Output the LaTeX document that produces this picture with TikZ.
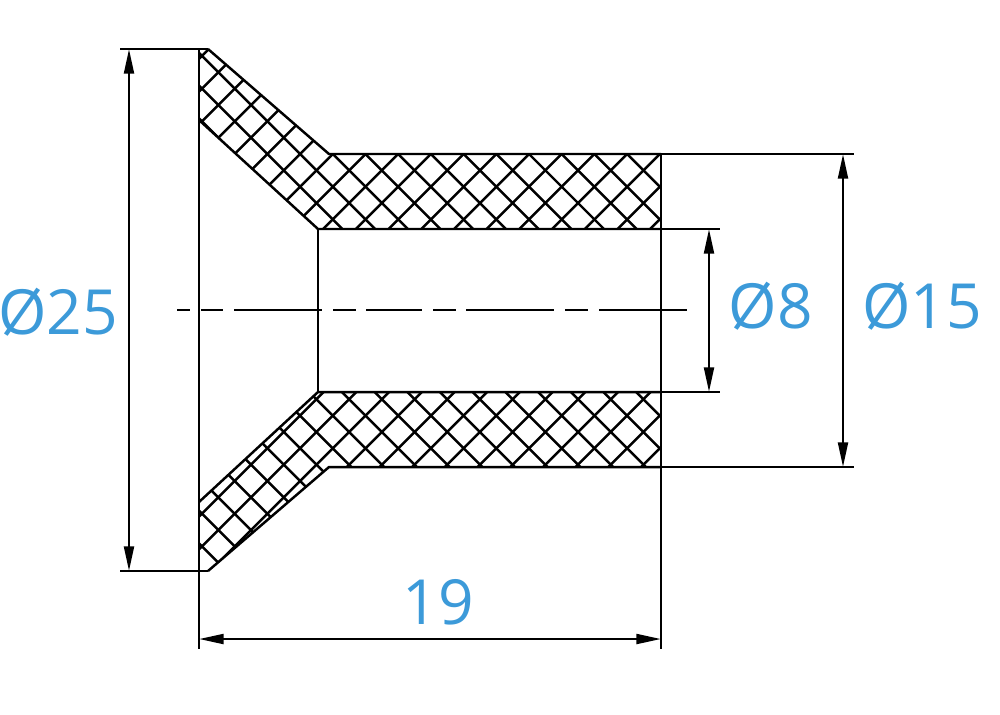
\documentclass[tikz,border=0pt]{standalone}
\usepackage{fontspec}
\setmainfont{Open Sans}
\usepackage{xcolor}
\usetikzlibrary{arrows.meta}
\definecolor{dimblue}{HTML}{3C9AD9}
\tikzset{
  dimline/.style={{Triangle[length=7pt,width=2.8pt]}-{Triangle[length=7pt,width=2.8pt]}},
  dimtext/.style={text=dimblue,font=\fontsize{17.7}{18}\selectfont,inner sep=0pt}
}
\begin{document}
\begin{tikzpicture}[x=0.01cm,y=-0.01cm,line width=0.7pt]

    \useasboundingbox (0, 0) rectangle (1000, 714);

    % corners of the section
    \coordinate (ta) at (199, 49);
    \coordinate (tb) at (208, 49);
    \coordinate (tc) at (329, 154);
    \coordinate (td) at (661, 154);
    \coordinate (te) at (661, 229);
    \coordinate (tf) at (318, 229);
    \coordinate (tg) at (199, 120);
    \coordinate (ba) at (199, 571);
    \coordinate (bb) at (208, 571);
    \coordinate (bc) at (329, 467);
    \coordinate (bd) at (661, 467);
    \coordinate (be) at (661, 392);
    \coordinate (bf) at (318, 392);
    \coordinate (bg) at (199, 502);

    % hatching
    \begin{scope}
      \clip (ta) -- (tb) -- (tc) -- (td) -- (te) -- (tf) -- (tg) -- cycle
            (ba) -- (bb) -- (bc) -- (bd) -- (be) -- (bf) -- (bg) -- cycle;
      \foreach \k in {-30,...,30} {
        \draw (375+32.7*\k, 0) -- ++(714, 714);
        \draw (683+32.7*\k, 0) -- ++(-714, 714);
      }
    \end{scope}

    \draw (tb) -- (tc) -- (td);
    \draw (tg) -- (tf) -- (te);
    \draw (bb) -- (bc) -- (bd);
    \draw (bg) -- (bf) -- (be);
    \draw (tf) -- (bf);

    % extension lines
    \coordinate (ltop) at (120, 49);
    \coordinate (lbot) at (120, 571);
    \coordinate (lend) at (199, 649);
    \coordinate (rend) at (661, 649);
    \coordinate (ra) at (854, 154);
    \coordinate (rb) at (854, 467);
    \coordinate (rc) at (720, 229);
    \coordinate (rd) at (720, 392);
    \draw (ltop) -- (tb);
    \draw (lbot) -- (bb);
    \draw (ta) -- (lend);
    \draw (td) -- (rend);
    \draw (td) -- (ra);
    \draw (bd) -- (rb);
    \draw (te) -- (rc);
    \draw (be) -- (rd);

    % centre line
    \coordinate (ca) at (177, 310);
    \coordinate (cb) at (687, 310);
    \draw [dash pattern=on 0.13cm off 0.11cm on 0.22cm off 0.11cm on 0.88cm off 0.11cm on 0.23cm off 0.10cm on 0.56cm off 0.11cm on 0.23cm off 0.10cm on 0.88cm off 0.11cm on 0.23cm off 0.11cm on 0.88cm off 1cm] (ca) -- (cb);

    % dimensions
    \coordinate (da) at (129, 49);
    \coordinate (db) at (129, 571);
    \coordinate (dc) at (199, 639);
    \coordinate (dd) at (661, 639);
    \coordinate (de) at (709, 229);
    \coordinate (df) at (709, 392);
    \coordinate (dg) at (843, 154);
    \coordinate (dh) at (843, 467);
    \draw [dimline] (da) -- (db);
    \draw [dimline] (dc) -- (dd);
    \draw [dimline] (de) -- (df);
    \draw [dimline] (dg) -- (dh);

    \node [dimtext] (d25) at (58, 312) {Ø25};
    \node [dimtext] (d8) at (771, 306) {Ø8};
    \node [dimtext] (d15) at (922, 306) {Ø15};
    \node [dimtext] (l19) at (438, 602) {19};

  \end{tikzpicture}
\end{document}
